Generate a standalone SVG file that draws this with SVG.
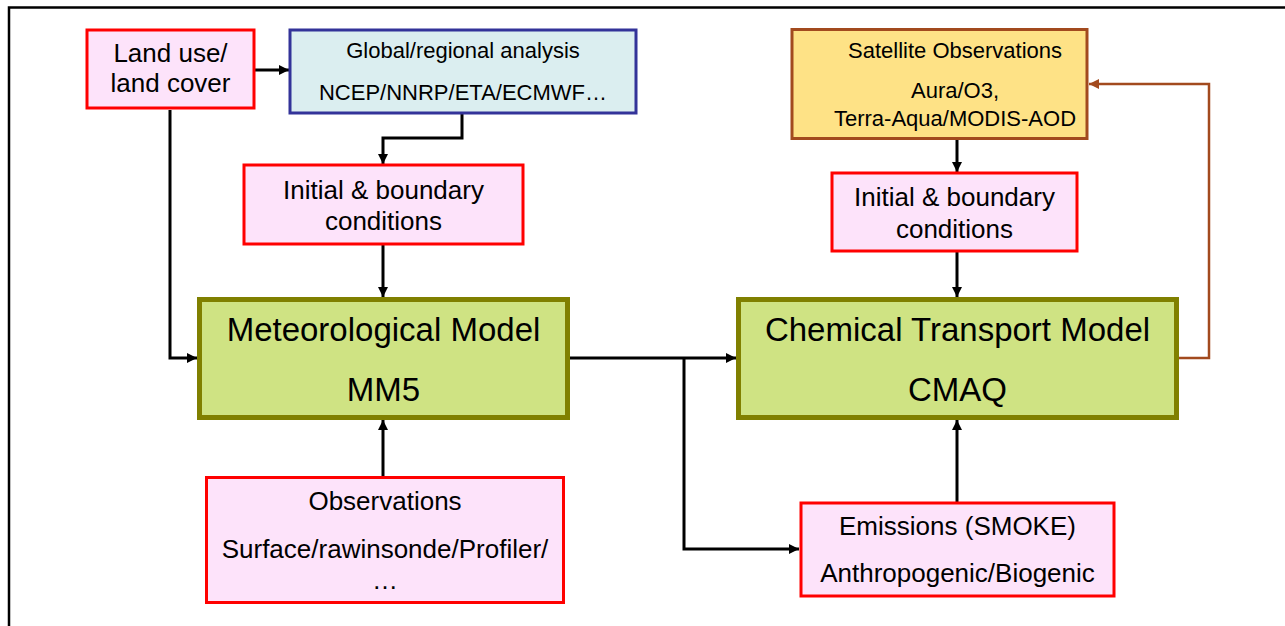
<svg xmlns="http://www.w3.org/2000/svg" width="1285" height="626" viewBox="0 0 1285 626">
<style>
text{font-family:"Liberation Sans",Arial,sans-serif;fill:#000;text-anchor:middle}
.pink{fill:#fde3fa;stroke:#ff0000;stroke-width:3}
.blue{fill:#dbeef0;stroke:#333399;stroke-width:3}
.yel{fill:#fee286;stroke:#a24a1e;stroke-width:3}
.grn{fill:#cfe383;stroke:#808000;stroke-width:5}
.c{fill:none;stroke:#000;stroke-width:3}
.cb{fill:none;stroke:#a24a1e;stroke-width:2.5}
.t26{font-size:26px}
.t22{font-size:22px}
.t33{font-size:33px}
</style>
<defs>
<marker id="ah" markerUnits="userSpaceOnUse" markerWidth="12" markerHeight="12" refX="10" refY="5" orient="auto">
<path d="M0,0 L10,5 L0,10 Z" fill="#000"/>
</marker>
<marker id="ahb" markerUnits="userSpaceOnUse" markerWidth="12" markerHeight="12" refX="10" refY="5" orient="auto">
<path d="M0,0 L10,5 L0,10 Z" fill="#a24a1e"/>
</marker>
</defs>
<rect width="1285" height="626" fill="#fff"/>
<path d="M9,626 V7.5 H1285" fill="none" stroke="#000" stroke-width="2.5"/>

<g id="connectors">
<path class="c" d="M255,70 H289" marker-end="url(#ah)"/>
<path class="c" d="M170,110 V358 H197" marker-end="url(#ah)"/>
<path class="c" d="M462,114 V138 H383 V164" marker-end="url(#ah)"/>
<path class="c" d="M383,245 V297" marker-end="url(#ah)"/>
<path class="c" d="M383,476 V420" marker-end="url(#ah)"/>
<path class="c" d="M570,358 H736" marker-end="url(#ah)"/>
<path class="c" d="M684,358 V549 H799" marker-end="url(#ah)"/>
<path class="c" d="M957,140 V172" marker-end="url(#ah)"/>
<path class="c" d="M957,252 V297" marker-end="url(#ah)"/>
<path class="c" d="M957,502 V420" marker-end="url(#ah)"/>
<path class="cb" d="M1179,358 H1209 V84 H1089" marker-end="url(#ahb)"/>
</g>

<g id="landuse">
<rect class="pink" x="87" y="30" width="167" height="78"/>
<text class="t26" x="170.5" y="62">Land use/</text>
<text class="t26" x="170.5" y="92">land cover</text>
</g>

<g id="global">
<rect class="blue" x="290" y="30" width="346" height="83"/>
<text class="t22" x="463" y="58">Global/regional analysis</text>
<text class="t22" x="463" y="100">NCEP/NNRP/ETA/ECMWF…</text>
</g>

<g id="init-left">
<rect class="pink" x="244" y="165" width="279" height="79"/>
<text class="t26" x="383.5" y="199">Initial &amp; boundary</text>
<text class="t26" x="383.5" y="230">conditions</text>
</g>

<g id="mm5">
<rect class="grn" x="199.5" y="299.5" width="368" height="118"/>
<text class="t33" x="383.5" y="341">Meteorological Model</text>
<text class="t33" x="383.5" y="401">MM5</text>
</g>

<g id="observations">
<rect class="pink" x="206.5" y="477.5" width="357" height="125"/>
<text class="t26" x="385" y="510">Observations</text>
<text class="t26" x="385" y="558">Surface/rawinsonde/Profiler/</text>
<text class="t26" x="385" y="589">…</text>
</g>

<g id="satellite">
<rect class="yel" x="792" y="29.5" width="295" height="109"/>
<text class="t22" x="955" y="58">Satellite Observations</text>
<text class="t22" x="955" y="98">Aura/O3,</text>
<text class="t22" x="955" y="126">Terra-Aqua/MODIS-AOD</text>
</g>

<g id="init-right">
<rect class="pink" x="832" y="173" width="245" height="78"/>
<text class="t26" x="954.5" y="206">Initial &amp; boundary</text>
<text class="t26" x="954.5" y="238">conditions</text>
</g>

<g id="cmaq">
<rect class="grn" x="738.5" y="299.5" width="438" height="118"/>
<text class="t33" x="957.5" y="341">Chemical Transport Model</text>
<text class="t33" x="957.5" y="401">CMAQ</text>
</g>

<g id="emissions">
<rect class="pink" x="801" y="503" width="313" height="93"/>
<text class="t26" x="957.5" y="535">Emissions (SMOKE)</text>
<text class="t26" x="957.5" y="582">Anthropogenic/Biogenic</text>
</g>
</svg>
